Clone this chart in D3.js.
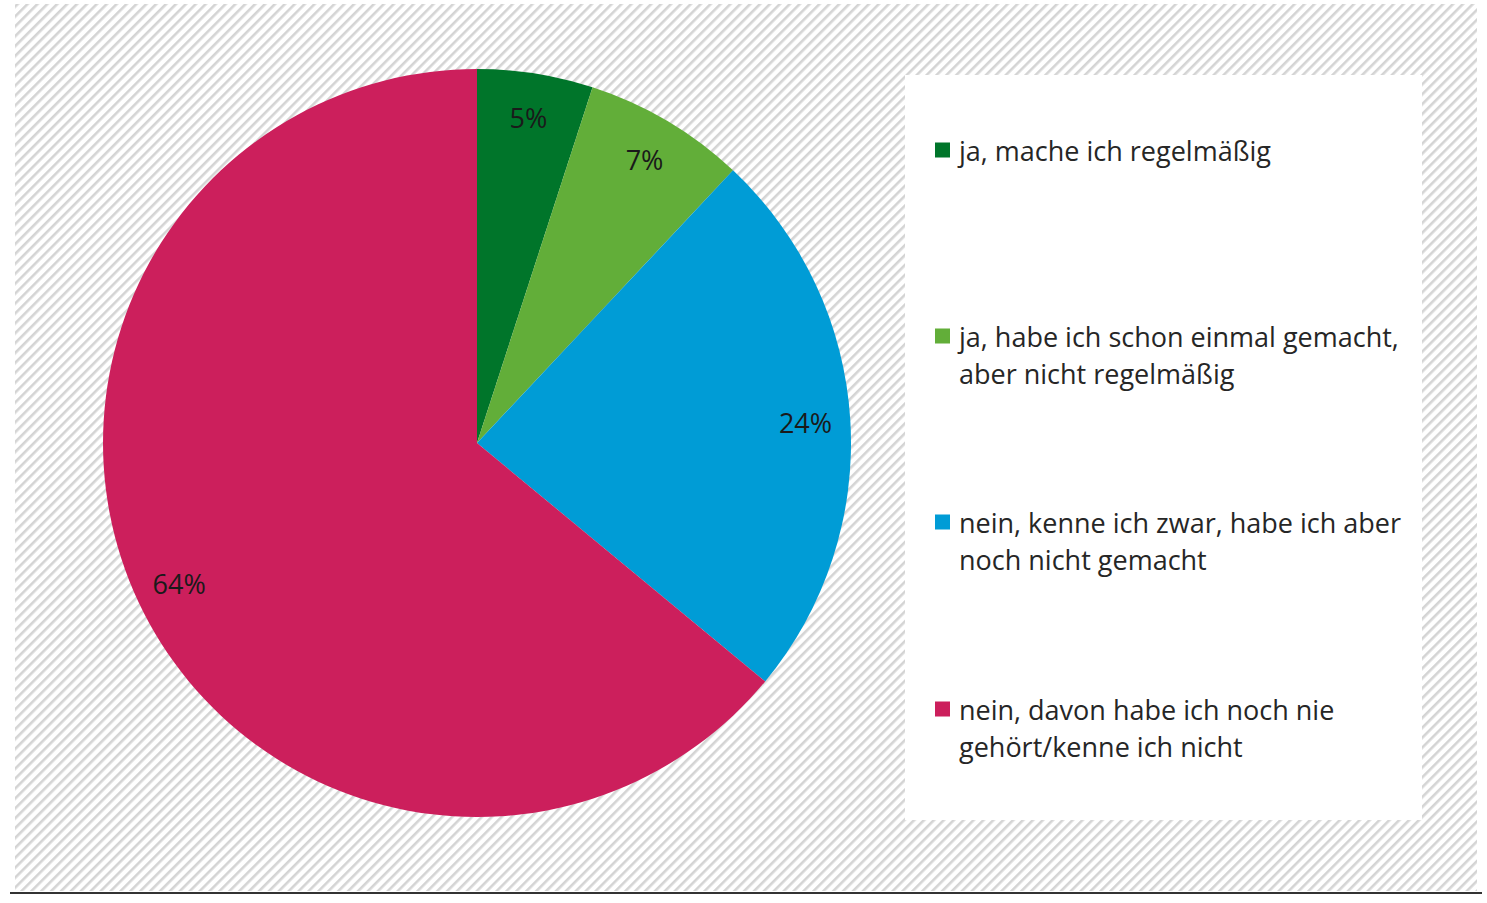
<!DOCTYPE html>
<html>
<head>
<meta charset="utf-8">
<script src="https://cdn.jsdelivr.net/npm/d3@7"></script>
<style>
  html, body { margin: 0; padding: 0; background: #fff; }
</style>
</head>
<body>
<div id="chart"></div>
<script>
// Data
const categories = [
    'ja, mache ich regelmäßig',
    'ja, habe ich schon einmal gemacht, aber nicht regelmäßig',
    'nein, kenne ich zwar, habe ich aber noch nicht gemacht',
    'nein, davon habe ich noch nie gehört/kenne ich nicht'
];
const values = [5, 7, 24, 64];
const legendLines = [
    ['ja, mache ich regelmäßig'],
    ['ja, habe ich schon einmal gemacht,', 'aber nicht regelmäßig'],
    ['nein, kenne ich zwar, habe ich aber', 'noch nicht gemacht'],
    ['nein, davon habe ich noch nie', 'gehört/kenne ich nicht']
];
const colors = ['#00752a', '#62ae39', '#009cd6', '#cc1f5c'];

const width = 1487, height = 903;
const font = '"Open Sans", Lato, sans-serif';

const svg = d3.select('#chart')
    .append('svg')
    .attr('width', width)
    .attr('height', height)
    .style('font-family', font);

// Hatch pattern background
const defs = svg.append('defs');
const pat = defs.append('pattern')
    .attr('id', 'hatch')
    .attr('patternUnits', 'userSpaceOnUse')
    .attr('width', 7)
    .attr('height', 7)
    .attr('patternTransform', 'rotate(45)');
pat.append('rect').attr('width', 7).attr('height', 7).attr('fill', '#fff');
pat.append('rect').attr('x', 0).attr('width', 2.6).attr('height', 7).attr('fill', '#d4d4d4');

svg.append('rect')
    .attr('x', 15).attr('y', 4)
    .attr('width', 1462).attr('height', 887)
    .attr('fill', 'url(#hatch)');

// Bottom rule
svg.append('line')
    .attr('x1', 10).attr('x2', 1482)
    .attr('y1', 893).attr('y2', 893)
    .attr('stroke', '#333').attr('stroke-width', 2);

// Pie
const cx = 477, cy = 443, radius = 374;
const pie = d3.pie().sort(null).value(d => d);
const arcs = pie(values);
const arc = d3.arc().innerRadius(0).outerRadius(radius);
const labelArc = d3.arc().innerRadius(radius * 0.88).outerRadius(radius * 0.88);

const g = svg.append('g').attr('transform', `translate(${cx},${cy})`);

g.selectAll('path')
    .data(arcs)
    .join('path')
    .attr('d', arc)
    .attr('fill', (d, i) => colors[i]);

g.selectAll('text')
    .data(arcs)
    .join('text')
    .attr('transform', d => `translate(${labelArc.centroid(d)})`)
    .attr('text-anchor', 'middle')
    .attr('dominant-baseline', 'central')
    .attr('font-size', '27px')
    .attr('fill', '#1a1a1a')
    .text(d => d.data + '%');

// Legend
svg.append('rect')
    .attr('x', 905).attr('y', 75)
    .attr('width', 517).attr('height', 745)
    .attr('fill', '#fff');

const legendY = [150, 336, 522, 709];
const lineH = 37.5;

const items = svg.append('g')
    .selectAll('g')
    .data(categories)
    .join('g')
    .attr('transform', (d, i) => `translate(935,${legendY[i]})`);

items.append('rect')
    .attr('x', 0).attr('y', -7.5)
    .attr('width', 15).attr('height', 15)
    .attr('fill', (d, i) => colors[i]);

items.each(function(d, i) {
    const t = d3.select(this).append('text')
        .attr('x', 24)
        .attr('y', 0)
        .attr('font-size', '27px')
        .attr('fill', '#262626');
    legendLines[i].forEach((line, j) => {
        t.append('tspan')
            .attr('x', 24)
            .attr('y', j * lineH)
            .attr('dominant-baseline', 'central')
            .text(line);
    });
});
</script>
</body>
</html>
